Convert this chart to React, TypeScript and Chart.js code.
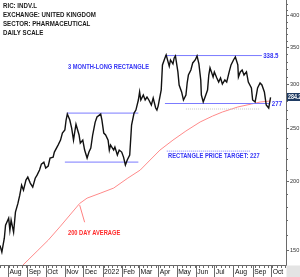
import React, { useEffect, useRef } from 'react';
import { Chart, registerables } from 'chart.js';

Chart.register(...registerables);

const headerLines = ['RIC: INDV.L', 'EXCHANGE: UNITED KINGDOM', 'SECTOR: PHARMACEUTICAL', 'DAILY SCALE'];

const priceDates = [
  '2021-07-19', '2021-07-22', '2021-07-26', '2021-07-28', '2021-08-02', '2021-08-04', '2021-08-06', '2021-08-10',
  '2021-08-13', '2021-08-17', '2021-08-20', '2021-08-23', '2021-08-26', '2021-08-30', '2021-09-02', '2021-09-06',
  '2021-09-10', '2021-09-14', '2021-09-17', '2021-09-21', '2021-09-24', '2021-09-28', '2021-10-01', '2021-10-05',
  '2021-10-08', '2021-10-13', '2021-10-15', '2021-10-21', '2021-10-25', '2021-10-28', '2021-11-01', '2021-11-03',
  '2021-11-05', '2021-11-09', '2021-11-12', '2021-11-15', '2021-11-17', '2021-11-19', '2021-11-24', '2021-11-26',
  '2021-11-30', '2021-12-03', '2021-12-07', '2021-12-10', '2021-12-13', '2021-12-16', '2021-12-20', '2021-12-23',
  '2021-12-29', '2021-12-31', '2022-01-03', '2022-01-06', '2022-01-10', '2022-01-12', '2022-01-14', '2022-01-19',
  '2022-01-21', '2022-01-25', '2022-01-28', '2022-02-01', '2022-02-04', '2022-02-07', '2022-02-10', '2022-02-14',
  '2022-02-17', '2022-02-21', '2022-02-24', '2022-02-28', '2022-03-02', '2022-03-04', '2022-03-08', '2022-03-11',
  '2022-03-14', '2022-03-17', '2022-03-21', '2022-03-24', '2022-03-28', '2022-03-30', '2022-04-01', '2022-04-06',
  '2022-04-08', '2022-04-12', '2022-04-14', '2022-04-19', '2022-04-21', '2022-04-25', '2022-04-27', '2022-04-29',
  '2022-05-03', '2022-05-05', '2022-05-09', '2022-05-12', '2022-05-16', '2022-05-18', '2022-05-20', '2022-05-24',
  '2022-05-27', '2022-05-31', '2022-06-03', '2022-06-06', '2022-06-09', '2022-06-10', '2022-06-13', '2022-06-16',
  '2022-06-20', '2022-06-22', '2022-06-24', '2022-06-29', '2022-07-01', '2022-07-05', '2022-07-08', '2022-07-11',
  '2022-07-14', '2022-07-18', '2022-07-21', '2022-07-25', '2022-07-28', '2022-08-01', '2022-08-04', '2022-08-08',
  '2022-08-09', '2022-08-12', '2022-08-15', '2022-08-18', '2022-08-22', '2022-08-25', '2022-08-30', '2022-09-01',
  '2022-09-05', '2022-09-07', '2022-09-09', '2022-09-13', '2022-09-16', '2022-09-20', '2022-09-23', '2022-09-27',
  '2022-09-30',
];

const priceValues = [
  153.0, 148.8, 157.7, 166.5, 171.5, 163.1, 170.1, 161.7,
  175.9, 182.4, 188.8, 196.9, 192.8, 201.1, 203.6, 198.6,
  195.3, 202.7, 205.3, 209.7, 215.0, 216.8, 211.4, 213.2,
  220.5, 221.4, 226.1, 232.8, 237.7, 244.8, 247.9, 258.5,
  265.0, 258.5, 250.0, 237.7, 245.9, 254.0, 242.8, 234.7,
  237.7, 228.0, 220.5, 226.1, 229.9, 242.8, 256.0, 261.8,
  265.0, 258.5, 244.8, 242.8, 237.7, 228.0, 232.8, 228.0,
  230.8, 223.3, 228.0, 226.1, 221.4, 214.1, 218.7, 223.3,
  253.2, 266.1, 269.5, 281.1, 290.7, 281.1, 287.0, 281.1,
  284.6, 281.1, 275.3, 283.4, 271.8, 269.5, 274.0, 293.1,
  325.5, 335.1, 339.4, 323.8, 332.3, 327.0, 335.1, 338.0,
  316.1, 299.3, 290.7, 281.1, 287.0, 301.8, 312.0, 318.7,
  328.2, 332.3, 338.0, 327.0, 305.6, 287.0, 278.7, 284.6,
  293.1, 312.0, 321.5, 309.5, 316.1, 308.2, 303.0, 308.2,
  300.5, 305.6, 303.0, 316.1, 325.5, 332.3, 336.5, 325.5,
  309.5, 316.1, 318.7, 312.0, 316.1, 303.0, 295.6, 281.1,
  278.7, 287.0, 295.6, 301.8, 299.3, 290.7, 275.3, 271.8,
  284.2,
];

const maDates = [
  '2021-08-23', '2021-09-17', '2021-10-05', '2021-10-25', '2021-11-25', '2021-12-07', '2021-12-28', '2022-01-19',
  '2022-02-11', '2022-03-03', '2022-03-19', '2022-04-04', '2022-04-25', '2022-05-16', '2022-06-08', '2022-06-28',
  '2022-07-14', '2022-08-08', '2022-08-30', '2022-09-13', '2022-09-30',
];
const maValues = [
  140.2, 149.4, 156.4, 165.9, 182.4, 186.5, 190.3, 194.5,
  202.8, 209.7, 218.7, 228.0, 237.7, 246.9, 256.4, 262.8,
  267.3, 273.0, 276.4, 278.7, 279.9,
];

const monthStarts = [
  '2021-08-01', '2021-09-01', '2021-10-01', '2021-11-01', '2021-12-01', '2022-01-01', '2022-02-01', '2022-03-01',
  '2022-04-01', '2022-05-01', '2022-06-01', '2022-07-01', '2022-08-01', '2022-09-01', '2022-10-01',
];
const monthLabels = ['Aug', 'Sep', 'Oct', 'Nov', 'Dec', '2022', 'Feb', 'Mar', 'Apr', 'May', 'Jun', 'Jul', 'Aug', 'Sep', 'Oct'];

const yTickValues = [150, 200, 250, 300, 350, 400];
const yMin = 141;
const yMax = 427;
const xStart = '2021-07-19';
const xEnd = '2022-10-25';

const resistanceLevel = 338.5;
const resistanceSpan = ['2022-04-12', '2022-09-16'];
const supportLevel = 277;
const supportSpan = ['2022-04-12', '2022-09-28'];
const targetLevel = 227;
const targetSpan = ['2022-04-15', '2022-08-28'];
const lowerDottedLevel = 270.7;
const lowerDottedSpan = ['2022-05-16', '2022-09-13'];
const oldTopLevel = 266.1;
const oldTopSpan = ['2021-11-04', '2022-02-28'];
const oldBottomLevel = 216.8;
const oldBottomSpan = ['2021-11-01', '2022-02-28'];
const lastPrice = 284.2;

const DAY = 86400000;
const toDay = (s: string) => Date.parse(s + 'T00:00:00Z') / DAY;
const pts = (dates: string[], values: number[]) => dates.map((d, i) => ({ x: toDay(d), y: values[i] }));
const seg = (span: string[], level: number) => [
  { x: toDay(span[0]), y: level },
  { x: toDay(span[1]), y: level },
];

const BLUE_TEXT = '#3535f5';
const BLUE_LINE = '#7b7bff';
const FONT = '"Liberation Sans", Arial, sans-serif';
const SQUEEZE = 0.82;

const decorations = {
  id: 'decorations',
  afterDraw(chart: any) {
    const { ctx, chartArea, scales } = chart;
    const x = scales.x;
    const y = scales.y;
    const W = chart.width;
    const H = chart.height;
    ctx.save();

    // corner box
    ctx.fillStyle = '#e4e4e4';
    ctx.fillRect(chartArea.right + 0.5, chartArea.bottom + 0.5, W - chartArea.right, H - chartArea.bottom);

    // x-axis ticks: month dividers + weekly minor ticks
    ctx.strokeStyle = '#6a6a6a';
    ctx.lineWidth = 1;
    ctx.beginPath();
    monthStarts.forEach((d) => {
      const px = Math.round(x.getPixelForValue(toDay(d))) + 0.5;
      ctx.moveTo(px, chartArea.bottom);
      ctx.lineTo(px, H);
    });
    for (let d = toDay(xStart); d <= toDay(xEnd); d += 7) {
      const px = Math.round(x.getPixelForValue(d)) + 0.5;
      ctx.moveTo(px, chartArea.bottom);
      ctx.lineTo(px, chartArea.bottom + 3);
    }
    // y-axis minor ticks
    for (let v = 150; v <= 420; v += 10) {
      if (v % 50 === 0) continue;
      const py = Math.round(y.getPixelForValue(v)) + 0.5;
      ctx.moveTo(chartArea.right, py);
      ctx.lineTo(chartArea.right + 2, py);
    }
    ctx.stroke();

    const draw = (t: string, px: number, py: number, color: string, size: number) => {
      ctx.save();
      ctx.fillStyle = color;
      ctx.font = 'bold ' + size + 'px ' + FONT;
      ctx.textBaseline = 'middle';
      ctx.textAlign = 'left';
      ctx.translate(px, py);
      ctx.scale(SQUEEZE, 1);
      ctx.fillText(t, 0, 0);
      ctx.restore();
    };

    // header
    headerLines.forEach((t, i) => draw(t, 3, 5.5 + i * 9.2, '#1a1a1a', 7.5));

    const txt = (t: string, date: string, price: number, color: string, size = 7) =>
      draw(t, x.getPixelForValue(toDay(date)), y.getPixelForValue(price), color, size);
    txt('3 MONTH-LONG RECTANGLE', '2021-11-06', 322.8, BLUE_TEXT);
    txt('338.5', '2022-09-18', resistanceLevel, BLUE_TEXT, 7.5);
    txt('277', '2022-10-02', supportLevel, BLUE_TEXT, 7.5);
    txt('RECTANGLE PRICE TARGET: 227', '2022-04-17', 222.4, BLUE_TEXT);
    txt('200 DAY AVERAGE', '2021-11-06', 161.1, '#ff2a2a');

    // pointer to moving average
    ctx.strokeStyle = '#ff8080';
    ctx.beginPath();
    ctx.moveTo(x.getPixelForValue(toDay('2021-12-03')), y.getPixelForValue(168.6));
    ctx.lineTo(x.getPixelForValue(toDay('2021-11-25')), y.getPixelForValue(181.1));
    ctx.stroke();

    // last price box
    const ly = Math.round(y.getPixelForValue(lastPrice));
    ctx.fillStyle = '#1f3b63';
    ctx.fillRect(chartArea.right + 1, ly - 4, W - chartArea.right - 1, 8);
    draw(lastPrice.toFixed(1), chartArea.right + 2, ly + 0.5, '#ffffff', 6.5);
    ctx.restore();
  },
};

export default function App() {
  const ref = useRef<HTMLCanvasElement | null>(null);
  useEffect(() => {
    if (!ref.current) return;
    const chart = new Chart(ref.current, {
      type: 'line',
      data: {
        datasets: [
          { label: 'INDV.L', data: pts(priceDates, priceValues), borderColor: '#111111', borderWidth: 1.4 },
          { label: '338.5', data: seg(resistanceSpan, resistanceLevel), borderColor: BLUE_LINE, borderWidth: 1 },
          { label: '277', data: seg(supportSpan, supportLevel), borderColor: BLUE_LINE, borderWidth: 1 },
          { label: 'target', data: seg(targetSpan, targetLevel), borderColor: BLUE_LINE, borderWidth: 1, borderDash: [1, 1] },
          { label: 'dotted', data: seg(lowerDottedSpan, lowerDottedLevel), borderColor: '#c8c8c8', borderWidth: 1, borderDash: [1, 1] },
          { label: 'old top', data: seg(oldTopSpan, oldTopLevel), borderColor: BLUE_LINE, borderWidth: 1 },
          { label: 'old bottom', data: seg(oldBottomSpan, oldBottomLevel), borderColor: BLUE_LINE, borderWidth: 1 },
          { label: '200 DAY AVERAGE', data: pts(maDates, maValues), borderColor: '#ff8a8a', borderWidth: 1 },
        ],
      },
      options: {
        responsive: false,
        animation: false,
        layout: { padding: 0 },
        elements: { point: { radius: 0 }, line: { tension: 0 } },
        plugins: { legend: { display: false }, tooltip: { enabled: false } },
        scales: {
          x: {
            type: 'linear',
            position: 'bottom',
            min: toDay(xStart),
            max: toDay(xEnd),
            grid: { display: false, drawTicks: false },
            border: { display: true, color: '#6a6a6a' },
            afterBuildTicks: (s: any) => {
              s.ticks = monthStarts.map((d) => ({ value: toDay(d) }));
            },
            ticks: {
              autoSkip: false,
              maxRotation: 0,
              align: 'start',
              labelOffset: 1.5,
              padding: 3,
              color: '#111111',
              font: { family: FONT, size: 6.8 },
              callback: (_v: any, i: number) => monthLabels[i],
            },
            afterFit: (s: any) => {
              s.height = 12;
              s.paddingLeft = 0;
              s.paddingRight = 0;
            },
          },
          y: {
            type: 'logarithmic',
            position: 'right',
            min: yMin,
            max: yMax,
            grid: { drawOnChartArea: false, tickLength: 3, color: '#6a6a6a' },
            border: { display: true, color: '#6a6a6a' },
            afterBuildTicks: (s: any) => {
              s.ticks = yTickValues.map((v) => ({ value: v }));
            },
            ticks: {
              padding: 1,
              color: '#333333',
              font: { family: FONT, size: 5.6 },
              callback: (v: any) => String(v),
            },
            afterFit: (s: any) => {
              s.width = 14;
              s.paddingTop = 0;
              s.paddingBottom = 0;
            },
          },
        },
      },
      plugins: [decorations],
    } as any);
    return () => chart.destroy();
  }, []);
  return (
    <div style={{ position: 'absolute', left: 0, top: 0, width: 300, height: 277, background: '#fff' }}>
      <canvas ref={ref} width={300} height={277} style={{ display: 'block' }} />
    </div>
  );
}
